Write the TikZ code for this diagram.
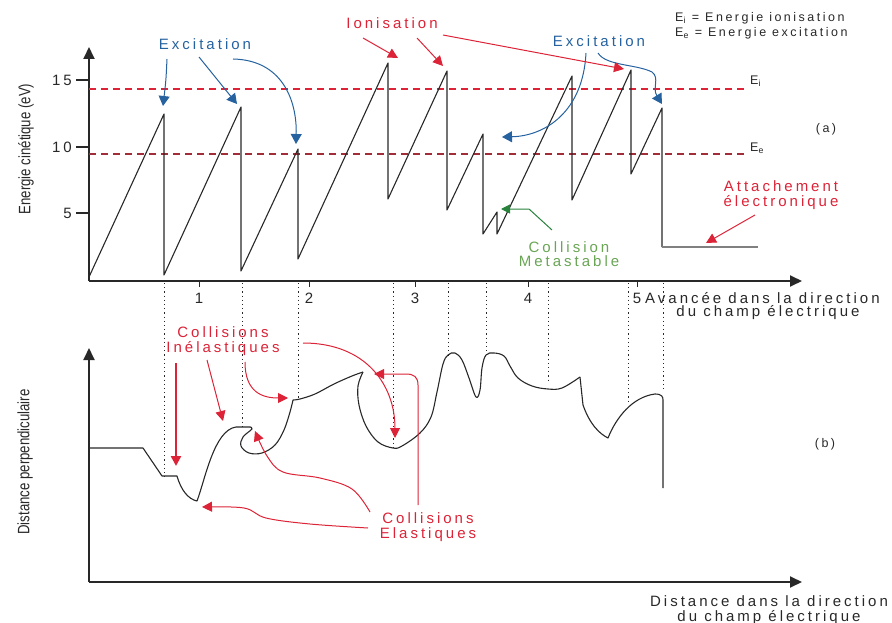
\documentclass[tikz,border=0pt]{standalone}
\usepackage{fontspec}
\setmainfont[LetterSpace=20]{Liberation Sans}
\newfontfamily\plainsans{Liberation Sans}
\usetikzlibrary{arrows.meta}
\definecolor{ink}{RGB}{40,40,40}
\definecolor{exred}{RGB}{220,35,55}
\definecolor{darkred}{RGB}{160,45,55}
\definecolor{exblue}{RGB}{38,98,160}
\definecolor{exgreen}{RGB}{40,130,60}
\definecolor{txgreen}{RGB}{105,165,85}
\tikzset{
  axis/.style={ink, line width=1.8pt, -{Triangle[length=12pt,width=11pt]}},
  curve/.style={ink, line width=1.1pt, line join=round},
  level/.style={line width=2.2pt, dash pattern=on 7pt off 5pt},
  guide/.style={ink, line width=1pt, dash pattern=on 1.2pt off 3pt},
  redarrow/.style={exred, line width=1pt, -{Triangle[length=10pt,width=10pt]}},
  bluearrow/.style={exblue, line width=1pt, -{Triangle[length=10pt,width=11pt]}},
  greenarrow/.style={exgreen, line width=1pt, -{Triangle[length=9pt,width=9pt]}},
  lbl/.style={font=\fontsize{15}{14.5}\selectfont, align=center, inner sep=0pt},
  small/.style={font=\fontsize{12.5}{14}\selectfont, inner sep=0pt},
  num/.style={font=\fontsize{15}{16}\selectfont, inner sep=0pt},
  ytitle/.style={font=\plainsans\fontsize{16.5}{18}\selectfont, rotate=90, inner sep=0pt, ink}
}
\begin{document}
\begin{tikzpicture}[x=1pt, y=-1pt]
\path[use as bounding box] (0,0) rectangle (892,623);

% ---------- (a) kinetic energy ----------
\draw[axis] (89,281) coordinate (oa) -- (89,47) coordinate (ya);
\draw[axis] (oa) -- (802,281) coordinate (xa);
\foreach \y/\t in {80/15,147/10,213/5}{
  \draw[ink, line width=1.3pt] (76,\y) -- (89,\y);
  \node[num, anchor=east, ink] at (72,\y) {\t};
}
\foreach \x/\t in {199/1,309/2,415/3,528/4,637/5}{
  \draw[ink, line width=1pt] (\x,281) -- (\x,287);
  \node[num, ink] at (\x,298) {\t};
}
\node[ytitle] at (26,149) {\scalebox{0.8}[1]{Energie cinétique (eV)}};

% threshold levels
\draw[level, exred] (89,89) -- (747,89);
\draw[level, darkred] (89,154) -- (747,154);
\node[small, anchor=west, ink] at (750,81) {E\textsubscript{i}};
\node[small, anchor=west, ink] at (750,148) {E\textsubscript{e}};
\node[small, ink] at (826,129) {(a)};
\node[small, anchor=west, ink] at (675,18) {E\textsubscript{i} = Energie ionisation};
\node[small, anchor=west, ink] at (675,33) {E\textsubscript{e} = Energie excitation};

% sawtooth of the electron energy
\draw[curve] (89,277) -- (164,114) -- (164,275) -- (241,107) -- (241,271)
  -- (298,149) -- (298,259) -- (388,63) -- (388,199) -- (447,71) -- (447,210)
  -- (483,134) -- (483,234) -- (497,212) -- (497,234) -- (572,76) -- (572,200)
  -- (631,70) -- (631,174) -- (662,108) -- (662,247);
\draw[gray, line width=1.2pt] (662,247) -- (758,247);

% labels of the top plot
\node[lbl, exblue] (exc1) at (205,44) {Excitation};
\node[lbl, exblue] (exc2) at (599,41) {Excitation};
\node[lbl, exred] (ion) at (392,23) {Ionisation};
\node[lbl, txgreen] (meta) at (569,254) {Collision\\Metastable};
\node[lbl, exred] (att) at (781,195) {Attachement\\électronique};
\node[lbl, ink, anchor=west] (adv) at (645,298) {Avancée dans la direction};
\node[lbl, ink] (adv2) at (768,313) {du champ électrique};

\draw[bluearrow] (167,59) .. controls (166,80) .. (163,106);
\draw[bluearrow] (199,57) -- (237,104);
\draw[bluearrow] (233,59) .. controls (282,60) and (297,100) .. (296,144);
\draw[bluearrow] (586,53) .. controls (583,112) and (545,136) .. (502,137);
\draw[bluearrow] (598,53) .. controls (606,66) and (636,64) .. (652,72)
  .. controls (660,78) and (652,88) .. (662,104);
\draw[redarrow] (363,38) -- (398,58);
\draw[redarrow] (417,38) -- (443,66);
\draw[redarrow] (443,35) -- (624,69);
\draw[greenarrow] (552,230) -- (529,209) -- (501,209);
\draw[redarrow] (755,215) -- (706,243);

% ---------- guides between the plots ----------
\foreach \x/\y in {164/477,242/427,298/398,393/448,448/356,486/352,548/383,628/403,663/390}{
  \draw[guide] (\x,283) -- (\x,\y);
}

% ---------- (b) transverse distance ----------
\draw[axis] (89,582) coordinate (ob) -- (89,348) coordinate (yb);
\draw[axis] (ob) -- (802,582) coordinate (xb);
\node[ytitle] at (25,462) {\scalebox{0.8}[1]{Distance perpendiculaire}};
\node[small, ink] at (825,444) {(b)};
\node[lbl, ink] (dist) at (769,610) {Distance dans la direction\\du champ électrique};

% electron path
\draw[curve] (89,448) -- (143,448) -- (162,476) -- (177,476)
  .. controls (181,490) and (188,499) .. (197,501)
  .. controls (205,480) and (214,430) .. (236,427) -- (250,427);
\draw[curve] plot[smooth, tension=0.6] coordinates {(250,427) (252,429) (243,437)
  (241,446) (249,453) (262,453) (275,445) (284,430) (290,412) (293,400)};
\draw[curve] plot[smooth, tension=0.6] coordinates {(293,400) (300,399) (315,394)
  (334,384) (352,376) (363,372)};
\draw[curve] plot[smooth, tension=0.6] coordinates {(363,372) (358,386) (359,405)
  (366,426) (378,442) (393,448) (402,446) (420,433) (431,417) (437,392)
  (443,364) (448,355) (455,353) (462,360) (469,378) (476,397) (480,390)
  (482,368) (486,355) (494,353) (504,356) (510,366) (518,378) (532,386)
  (548,389) (562,388) (580,377)};
\draw[curve] (580,377) -- (583,405) .. controls (590,425) and (600,434) .. (608,438)
  .. controls (616,418) and (632,397) .. (655,394) .. controls (662,394) and (663,397) .. (663,400)
  -- (663,488);

% labels and arrows of the bottom plot
\node[lbl, exred] (inel) at (223,341) {Collisions\\Inélastiques};
\node[lbl, exred] (el) at (428,527) {Collisions\\Elastiques};
\draw[redarrow, line width=2.4pt] (176,363) -- (176,466);
\draw[redarrow] (207,360) -- (223,421);
\draw[redarrow] (245,362) .. controls (245,392) and (262,398) .. (288,398);
\draw[redarrow] (303,343) .. controls (366,343) and (395,385) .. (395,438);
\draw[redarrow] (418,505) -- (418,385) .. controls (418,377) and (414,374) .. (406,374) -- (374,374);
\draw[redarrow] plot[smooth, tension=0.6] coordinates {(370,512) (352,489) (320,478)
  (283,472) (267,456) (255,431)};
\draw[redarrow] plot[smooth, tension=0.6] coordinates {(368,528) (310,524)
  (266,518) (244,508) (202,507)};
\end{tikzpicture}
\end{document}
